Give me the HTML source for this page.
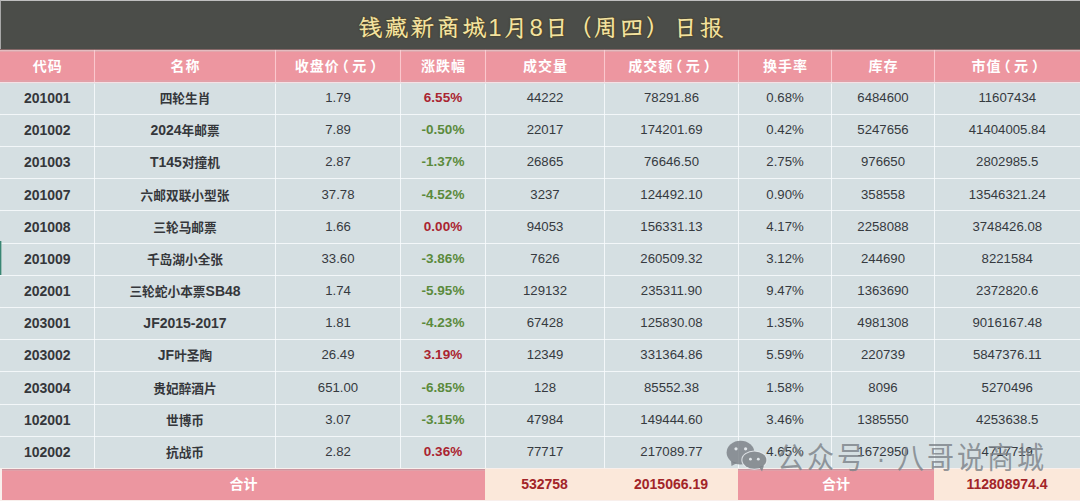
<!DOCTYPE html>
<html lang="zh-CN"><head><meta charset="utf-8"><title>钱藏新商城日报</title>
<style>
*{margin:0;padding:0;box-sizing:border-box}
html,body{width:1080px;height:501px;overflow:hidden;background:#d5dfe2}
body{position:relative;font-family:"Liberation Sans","Noto Sans CJK SC",sans-serif}
#title{position:absolute;left:0;top:0;width:1080px;height:49px;background:#4b4d49;border-top:1px solid #bfbfbf;border-left:1px solid #a8a8a8}
#title .t{position:absolute;left:0;top:0;width:1080px;height:49px;line-height:54px;text-align:center;font-family:"Liberation Serif","LXGW WenKai TC","Noto Serif CJK SC",serif;font-size:24px;font-weight:700;letter-spacing:2px;color:#f3e2a0;text-shadow:0 0 1px #3d3318,0 0 2px #4a3d1a;padding-left:2px}
#title .d{font-family:"Liberation Sans",sans-serif;font-weight:400}
#hdr{position:absolute;left:0;top:49px;width:1080px;height:33px;background:linear-gradient(to bottom,#866868 0 1px,#e4bcc0 1px 2px,#e2a6ac 2px 3px,#ed96a0 3px 31px,#e2a0a8 31px)}
.c{position:absolute;text-align:center;white-space:nowrap;font-size:13.2px;color:#363a3f}
.h{color:#fff;font-weight:bold;font-size:14px;letter-spacing:1px;text-indent:1px;font-family:"Liberation Sans","Noto Sans CJK SC",sans-serif}
.code{font-weight:bold;font-size:14px;color:#35373b}
.name{font-weight:bold;font-size:14px;color:#35373b}
.k{font-size:12.7px}
.hp{padding-left:3px}
.lp{margin-left:-5px;margin-right:2.5px}
.rp{margin-left:3px}
.pct{font-weight:bold;font-size:13.5px}
.red{color:#aa2430}
.grn{color:#5b8a3c}
.vl{position:absolute;width:1px;background:rgba(248,252,253,0.85);box-shadow:0 0 1px rgba(245,250,252,0.35)}
.vh{background:rgba(255,215,220,0.75);box-shadow:0 0 1px rgba(255,210,215,0.5)}
.hl{position:absolute;left:0;width:1080px;height:1px;background:rgba(248,252,253,0.85);box-shadow:0 0 1px rgba(245,250,252,0.35)}
.h0{background:#f4e2e6;box-shadow:0 1px 0 rgba(220,222,224,0.6)}
#foot{position:absolute;left:0;top:468px;width:1080px;height:33px;background:#f8efec}
.f{position:absolute;top:469px;height:31px;line-height:31px;text-align:center;font-weight:bold;font-size:14px}
.fp{background:linear-gradient(to bottom,#cc96a0 0 1px,#e0a0a8 1px 2px,#ec96a0 2px);color:#fff}
.fy{background:#fbe8da;color:#a22428}
#sel{position:absolute;left:0;top:241px;width:1px;height:34px;background:#3a8674;box-shadow:1px 0 0 rgba(110,165,150,0.55)}
#wm{position:absolute;left:0;top:0}
#wmt{position:absolute;left:777px;top:437px;transform:scaleY(1.1);transform-origin:0 7px;font-family:"Liberation Sans","Noto Sans CJK SC",sans-serif;font-size:27px;letter-spacing:3px;font-weight:400;color:rgba(122,128,134,0.8);white-space:nowrap;line-height:40px}
</style></head><body>
<div id="title"><div class="t">钱藏新商城<span class="d">1</span>月<span class="d">8</span>日<span style="margin-left:-3px">（</span>周四）<span style="margin-left:2px">日</span>报</div></div>
<div id="hdr"></div>
<div class="c h" style="left:0px;top:49.50px;width:94.5px;height:32.50px;line-height:32.50px">代码</div>
<div class="c h" style="left:94.5px;top:49.50px;width:181.0px;height:32.50px;line-height:32.50px">名称</div>
<div class="c h hp" style="left:275.5px;top:49.50px;width:125.0px;height:32.50px;line-height:32.50px">收盘价<span class="lp">（</span>元<span class="rp">）</span></div>
<div class="c h" style="left:400.5px;top:49.50px;width:85.0px;height:32.50px;line-height:32.50px">涨跌幅</div>
<div class="c h" style="left:485.5px;top:49.50px;width:119.0px;height:32.50px;line-height:32.50px">成交量</div>
<div class="c h hp" style="left:604.5px;top:49.50px;width:134.0px;height:32.50px;line-height:32.50px">成交额<span class="lp">（</span>元<span class="rp">）</span></div>
<div class="c h" style="left:738.5px;top:49.50px;width:93.0px;height:32.50px;line-height:32.50px">换手率</div>
<div class="c h" style="left:831.5px;top:49.50px;width:103.0px;height:32.50px;line-height:32.50px">库存</div>
<div class="c h hp" style="left:934.5px;top:49.50px;width:145.5px;height:32.50px;line-height:32.50px">市值<span class="lp">（</span>元<span class="rp">）</span></div>
<div class="c code" style="left:0px;top:82.00px;width:94.5px;height:32.17px;line-height:32.17px">201001</div>
<div class="c name" style="left:94.5px;top:82.00px;width:181.0px;height:32.17px;line-height:32.17px"><span class="k">四轮生肖</span></div>
<div class="c n" style="left:275.5px;top:82.00px;width:125.0px;height:32.17px;line-height:32.17px">1.79</div>
<div class="c pct red" style="left:400.5px;top:82.00px;width:85.0px;height:32.17px;line-height:32.17px">6.55%</div>
<div class="c n" style="left:485.5px;top:82.00px;width:119.0px;height:32.17px;line-height:32.17px">44222</div>
<div class="c n" style="left:604.5px;top:82.00px;width:134.0px;height:32.17px;line-height:32.17px">78291.86</div>
<div class="c n" style="left:738.5px;top:82.00px;width:93.0px;height:32.17px;line-height:32.17px">0.68%</div>
<div class="c n" style="left:831.5px;top:82.00px;width:103.0px;height:32.17px;line-height:32.17px">6484600</div>
<div class="c n" style="left:934.5px;top:82.00px;width:145.5px;height:32.17px;line-height:32.17px">11607434</div>
<div class="c code" style="left:0px;top:114.17px;width:94.5px;height:32.17px;line-height:32.17px">201002</div>
<div class="c name" style="left:94.5px;top:114.17px;width:181.0px;height:32.17px;line-height:32.17px">2024<span class="k">年邮票</span></div>
<div class="c n" style="left:275.5px;top:114.17px;width:125.0px;height:32.17px;line-height:32.17px">7.89</div>
<div class="c pct grn" style="left:400.5px;top:114.17px;width:85.0px;height:32.17px;line-height:32.17px">-0.50%</div>
<div class="c n" style="left:485.5px;top:114.17px;width:119.0px;height:32.17px;line-height:32.17px">22017</div>
<div class="c n" style="left:604.5px;top:114.17px;width:134.0px;height:32.17px;line-height:32.17px">174201.69</div>
<div class="c n" style="left:738.5px;top:114.17px;width:93.0px;height:32.17px;line-height:32.17px">0.42%</div>
<div class="c n" style="left:831.5px;top:114.17px;width:103.0px;height:32.17px;line-height:32.17px">5247656</div>
<div class="c n" style="left:934.5px;top:114.17px;width:145.5px;height:32.17px;line-height:32.17px">41404005.84</div>
<div class="c code" style="left:0px;top:146.34px;width:94.5px;height:32.17px;line-height:32.17px">201003</div>
<div class="c name" style="left:94.5px;top:146.34px;width:181.0px;height:32.17px;line-height:32.17px">T145<span class="k">对撞机</span></div>
<div class="c n" style="left:275.5px;top:146.34px;width:125.0px;height:32.17px;line-height:32.17px">2.87</div>
<div class="c pct grn" style="left:400.5px;top:146.34px;width:85.0px;height:32.17px;line-height:32.17px">-1.37%</div>
<div class="c n" style="left:485.5px;top:146.34px;width:119.0px;height:32.17px;line-height:32.17px">26865</div>
<div class="c n" style="left:604.5px;top:146.34px;width:134.0px;height:32.17px;line-height:32.17px">76646.50</div>
<div class="c n" style="left:738.5px;top:146.34px;width:93.0px;height:32.17px;line-height:32.17px">2.75%</div>
<div class="c n" style="left:831.5px;top:146.34px;width:103.0px;height:32.17px;line-height:32.17px">976650</div>
<div class="c n" style="left:934.5px;top:146.34px;width:145.5px;height:32.17px;line-height:32.17px">2802985.5</div>
<div class="c code" style="left:0px;top:178.51px;width:94.5px;height:32.17px;line-height:32.17px">201007</div>
<div class="c name" style="left:94.5px;top:178.51px;width:181.0px;height:32.17px;line-height:32.17px"><span class="k">六邮双联小型张</span></div>
<div class="c n" style="left:275.5px;top:178.51px;width:125.0px;height:32.17px;line-height:32.17px">37.78</div>
<div class="c pct grn" style="left:400.5px;top:178.51px;width:85.0px;height:32.17px;line-height:32.17px">-4.52%</div>
<div class="c n" style="left:485.5px;top:178.51px;width:119.0px;height:32.17px;line-height:32.17px">3237</div>
<div class="c n" style="left:604.5px;top:178.51px;width:134.0px;height:32.17px;line-height:32.17px">124492.10</div>
<div class="c n" style="left:738.5px;top:178.51px;width:93.0px;height:32.17px;line-height:32.17px">0.90%</div>
<div class="c n" style="left:831.5px;top:178.51px;width:103.0px;height:32.17px;line-height:32.17px">358558</div>
<div class="c n" style="left:934.5px;top:178.51px;width:145.5px;height:32.17px;line-height:32.17px">13546321.24</div>
<div class="c code" style="left:0px;top:210.68px;width:94.5px;height:32.17px;line-height:32.17px">201008</div>
<div class="c name" style="left:94.5px;top:210.68px;width:181.0px;height:32.17px;line-height:32.17px"><span class="k">三轮马邮票</span></div>
<div class="c n" style="left:275.5px;top:210.68px;width:125.0px;height:32.17px;line-height:32.17px">1.66</div>
<div class="c pct red" style="left:400.5px;top:210.68px;width:85.0px;height:32.17px;line-height:32.17px">0.00%</div>
<div class="c n" style="left:485.5px;top:210.68px;width:119.0px;height:32.17px;line-height:32.17px">94053</div>
<div class="c n" style="left:604.5px;top:210.68px;width:134.0px;height:32.17px;line-height:32.17px">156331.13</div>
<div class="c n" style="left:738.5px;top:210.68px;width:93.0px;height:32.17px;line-height:32.17px">4.17%</div>
<div class="c n" style="left:831.5px;top:210.68px;width:103.0px;height:32.17px;line-height:32.17px">2258088</div>
<div class="c n" style="left:934.5px;top:210.68px;width:145.5px;height:32.17px;line-height:32.17px">3748426.08</div>
<div class="c code" style="left:0px;top:242.85px;width:94.5px;height:32.17px;line-height:32.17px">201009</div>
<div class="c name" style="left:94.5px;top:242.85px;width:181.0px;height:32.17px;line-height:32.17px"><span class="k">千岛湖小全张</span></div>
<div class="c n" style="left:275.5px;top:242.85px;width:125.0px;height:32.17px;line-height:32.17px">33.60</div>
<div class="c pct grn" style="left:400.5px;top:242.85px;width:85.0px;height:32.17px;line-height:32.17px">-3.86%</div>
<div class="c n" style="left:485.5px;top:242.85px;width:119.0px;height:32.17px;line-height:32.17px">7626</div>
<div class="c n" style="left:604.5px;top:242.85px;width:134.0px;height:32.17px;line-height:32.17px">260509.32</div>
<div class="c n" style="left:738.5px;top:242.85px;width:93.0px;height:32.17px;line-height:32.17px">3.12%</div>
<div class="c n" style="left:831.5px;top:242.85px;width:103.0px;height:32.17px;line-height:32.17px">244690</div>
<div class="c n" style="left:934.5px;top:242.85px;width:145.5px;height:32.17px;line-height:32.17px">8221584</div>
<div class="c code" style="left:0px;top:275.02px;width:94.5px;height:32.17px;line-height:32.17px">202001</div>
<div class="c name" style="left:94.5px;top:275.02px;width:181.0px;height:32.17px;line-height:32.17px"><span class="k">三轮蛇小本票</span>SB48</div>
<div class="c n" style="left:275.5px;top:275.02px;width:125.0px;height:32.17px;line-height:32.17px">1.74</div>
<div class="c pct grn" style="left:400.5px;top:275.02px;width:85.0px;height:32.17px;line-height:32.17px">-5.95%</div>
<div class="c n" style="left:485.5px;top:275.02px;width:119.0px;height:32.17px;line-height:32.17px">129132</div>
<div class="c n" style="left:604.5px;top:275.02px;width:134.0px;height:32.17px;line-height:32.17px">235311.90</div>
<div class="c n" style="left:738.5px;top:275.02px;width:93.0px;height:32.17px;line-height:32.17px">9.47%</div>
<div class="c n" style="left:831.5px;top:275.02px;width:103.0px;height:32.17px;line-height:32.17px">1363690</div>
<div class="c n" style="left:934.5px;top:275.02px;width:145.5px;height:32.17px;line-height:32.17px">2372820.6</div>
<div class="c code" style="left:0px;top:307.19px;width:94.5px;height:32.17px;line-height:32.17px">203001</div>
<div class="c name" style="left:94.5px;top:307.19px;width:181.0px;height:32.17px;line-height:32.17px">JF2015-2017</div>
<div class="c n" style="left:275.5px;top:307.19px;width:125.0px;height:32.17px;line-height:32.17px">1.81</div>
<div class="c pct grn" style="left:400.5px;top:307.19px;width:85.0px;height:32.17px;line-height:32.17px">-4.23%</div>
<div class="c n" style="left:485.5px;top:307.19px;width:119.0px;height:32.17px;line-height:32.17px">67428</div>
<div class="c n" style="left:604.5px;top:307.19px;width:134.0px;height:32.17px;line-height:32.17px">125830.08</div>
<div class="c n" style="left:738.5px;top:307.19px;width:93.0px;height:32.17px;line-height:32.17px">1.35%</div>
<div class="c n" style="left:831.5px;top:307.19px;width:103.0px;height:32.17px;line-height:32.17px">4981308</div>
<div class="c n" style="left:934.5px;top:307.19px;width:145.5px;height:32.17px;line-height:32.17px">9016167.48</div>
<div class="c code" style="left:0px;top:339.36px;width:94.5px;height:32.17px;line-height:32.17px">203002</div>
<div class="c name" style="left:94.5px;top:339.36px;width:181.0px;height:32.17px;line-height:32.17px">JF<span class="k">叶圣陶</span></div>
<div class="c n" style="left:275.5px;top:339.36px;width:125.0px;height:32.17px;line-height:32.17px">26.49</div>
<div class="c pct red" style="left:400.5px;top:339.36px;width:85.0px;height:32.17px;line-height:32.17px">3.19%</div>
<div class="c n" style="left:485.5px;top:339.36px;width:119.0px;height:32.17px;line-height:32.17px">12349</div>
<div class="c n" style="left:604.5px;top:339.36px;width:134.0px;height:32.17px;line-height:32.17px">331364.86</div>
<div class="c n" style="left:738.5px;top:339.36px;width:93.0px;height:32.17px;line-height:32.17px">5.59%</div>
<div class="c n" style="left:831.5px;top:339.36px;width:103.0px;height:32.17px;line-height:32.17px">220739</div>
<div class="c n" style="left:934.5px;top:339.36px;width:145.5px;height:32.17px;line-height:32.17px">5847376.11</div>
<div class="c code" style="left:0px;top:371.53px;width:94.5px;height:32.17px;line-height:32.17px">203004</div>
<div class="c name" style="left:94.5px;top:371.53px;width:181.0px;height:32.17px;line-height:32.17px"><span class="k">贵妃醉酒片</span></div>
<div class="c n" style="left:275.5px;top:371.53px;width:125.0px;height:32.17px;line-height:32.17px">651.00</div>
<div class="c pct grn" style="left:400.5px;top:371.53px;width:85.0px;height:32.17px;line-height:32.17px">-6.85%</div>
<div class="c n" style="left:485.5px;top:371.53px;width:119.0px;height:32.17px;line-height:32.17px">128</div>
<div class="c n" style="left:604.5px;top:371.53px;width:134.0px;height:32.17px;line-height:32.17px">85552.38</div>
<div class="c n" style="left:738.5px;top:371.53px;width:93.0px;height:32.17px;line-height:32.17px">1.58%</div>
<div class="c n" style="left:831.5px;top:371.53px;width:103.0px;height:32.17px;line-height:32.17px">8096</div>
<div class="c n" style="left:934.5px;top:371.53px;width:145.5px;height:32.17px;line-height:32.17px">5270496</div>
<div class="c code" style="left:0px;top:403.70px;width:94.5px;height:32.17px;line-height:32.17px">102001</div>
<div class="c name" style="left:94.5px;top:403.70px;width:181.0px;height:32.17px;line-height:32.17px"><span class="k">世博币</span></div>
<div class="c n" style="left:275.5px;top:403.70px;width:125.0px;height:32.17px;line-height:32.17px">3.07</div>
<div class="c pct grn" style="left:400.5px;top:403.70px;width:85.0px;height:32.17px;line-height:32.17px">-3.15%</div>
<div class="c n" style="left:485.5px;top:403.70px;width:119.0px;height:32.17px;line-height:32.17px">47984</div>
<div class="c n" style="left:604.5px;top:403.70px;width:134.0px;height:32.17px;line-height:32.17px">149444.60</div>
<div class="c n" style="left:738.5px;top:403.70px;width:93.0px;height:32.17px;line-height:32.17px">3.46%</div>
<div class="c n" style="left:831.5px;top:403.70px;width:103.0px;height:32.17px;line-height:32.17px">1385550</div>
<div class="c n" style="left:934.5px;top:403.70px;width:145.5px;height:32.17px;line-height:32.17px">4253638.5</div>
<div class="c code" style="left:0px;top:435.87px;width:94.5px;height:32.17px;line-height:32.17px">102002</div>
<div class="c name" style="left:94.5px;top:435.87px;width:181.0px;height:32.17px;line-height:32.17px"><span class="k">抗战币</span></div>
<div class="c n" style="left:275.5px;top:435.87px;width:125.0px;height:32.17px;line-height:32.17px">2.82</div>
<div class="c pct red" style="left:400.5px;top:435.87px;width:85.0px;height:32.17px;line-height:32.17px">0.36%</div>
<div class="c n" style="left:485.5px;top:435.87px;width:119.0px;height:32.17px;line-height:32.17px">77717</div>
<div class="c n" style="left:604.5px;top:435.87px;width:134.0px;height:32.17px;line-height:32.17px">217089.77</div>
<div class="c n" style="left:738.5px;top:435.87px;width:93.0px;height:32.17px;line-height:32.17px">4.65%</div>
<div class="c n" style="left:831.5px;top:435.87px;width:103.0px;height:32.17px;line-height:32.17px">1672950</div>
<div class="c n" style="left:934.5px;top:435.87px;width:145.5px;height:32.17px;line-height:32.17px">4717719</div>
<div class="vl vh" style="left:94px;top:50px;height:32px"></div>
<div class="vl" style="left:94px;top:82px;height:386px"></div>
<div class="vl vh" style="left:275px;top:50px;height:32px"></div>
<div class="vl" style="left:275px;top:82px;height:386px"></div>
<div class="vl vh" style="left:400px;top:50px;height:32px"></div>
<div class="vl" style="left:400px;top:82px;height:386px"></div>
<div class="vl vh" style="left:485px;top:50px;height:32px"></div>
<div class="vl" style="left:485px;top:82px;height:386px"></div>
<div class="vl vh" style="left:604px;top:50px;height:32px"></div>
<div class="vl" style="left:604px;top:82px;height:386px"></div>
<div class="vl vh" style="left:738px;top:50px;height:32px"></div>
<div class="vl" style="left:738px;top:82px;height:386px"></div>
<div class="vl vh" style="left:831px;top:50px;height:32px"></div>
<div class="vl" style="left:831px;top:82px;height:386px"></div>
<div class="vl vh" style="left:934px;top:50px;height:32px"></div>
<div class="vl" style="left:934px;top:82px;height:386px"></div>
<div class="hl h0" style="top:82px"></div>
<div class="hl" style="top:114px"></div>
<div class="hl" style="top:146px"></div>
<div class="hl" style="top:178px"></div>
<div class="hl" style="top:210px"></div>
<div class="hl" style="top:243px"></div>
<div class="hl" style="top:275px"></div>
<div class="hl" style="top:307px"></div>
<div class="hl" style="top:339px"></div>
<div class="hl" style="top:371px"></div>
<div class="hl" style="top:404px"></div>
<div class="hl" style="top:436px"></div>
<div class="hl" style="top:468px"></div>
<div id="foot"></div>
<div class="f fp" style="left:2px;width:483px">合计</div>
<div class="f fy" style="left:485px;width:119px">532758</div>
<div class="f fy" style="left:604px;width:134px">2015066.19</div>
<div class="f fp" style="left:738px;width:196px">合计</div>
<div class="f fy" style="left:934px;width:146px">112808974.4</div>
<div id="sel"></div>
<svg id="wm" width="1080" height="501" viewBox="0 0 1080 501">
 <g fill="rgba(122,128,134,0.82)">
  <ellipse cx="740.5" cy="452.6" rx="13.9" ry="11.8"/>
  <path d="M731 461 L731.5 466 L737 463 Z"/>
 </g>
 <ellipse cx="754.4" cy="460.1" rx="13.1" ry="9.6" fill="rgba(228,233,236,0.9)"/>
 <g fill="rgba(122,128,134,0.85)">
  <ellipse cx="754.4" cy="460.1" rx="12" ry="8.6"/>
  <path d="M759 467 L762 471.5 L764 465.5 Z"/>
 </g>
 <g fill="#e2e7ea">
  <circle cx="736" cy="448.8" r="1.6"/><circle cx="745.6" cy="448.8" r="1.6"/>
  <circle cx="750.4" cy="459.2" r="1.4"/><circle cx="758.3" cy="459.2" r="1.4"/>
 </g>
</svg>
<div id="wmt">公众号<span style="letter-spacing:2px"> · </span>八哥说商城</div>
</body></html>
